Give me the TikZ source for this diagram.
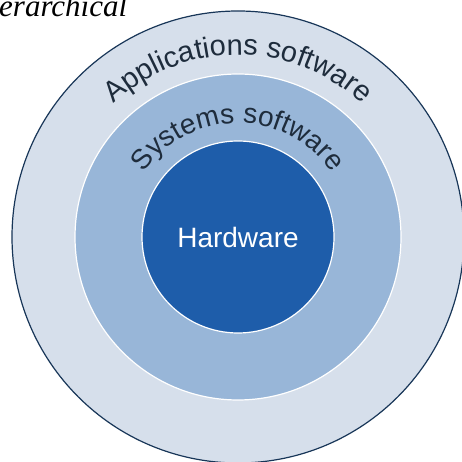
\documentclass[tikz,border=0pt]{standalone}
\usepackage{fontspec}
\setmainfont{Liberation Serif}
\setsansfont{Liberation Sans}
\usetikzlibrary{decorations.text}
\definecolor{ringouter}{RGB}{214, 223, 235}
\definecolor{ringmid}{RGB}{152, 182, 216}
\definecolor{ringcore}{RGB}{30, 93, 170}
\definecolor{rimline}{RGB}{24, 54, 88}
\definecolor{labeldark}{RGB}{30, 44, 60}
\tikzset{
  ring/.style={
    circle, draw=white, line width=1.2pt,
    inner sep=0pt
  },
  arclabel/.style={
    decorate,
    decoration={text along path, text align=center, text color=labeldark}
  }
}

\begin{document}
\begin{tikzpicture}[
  x=1pt, y=1pt,
  ringtext/.style={font=\fontsize{28}{28}\selectfont\sffamily},
]
\useasboundingbox (0,0) rectangle (462,462);
\clip (0,0) rectangle (462,462);

% Rings
\coordinate (c) at (238,225);
\node[ring, fill=ringouter, draw=rimline, minimum size=452pt] (appring) at (c) {};
\node[ring, fill=ringmid, minimum size=326pt] (sysring) at (c) {};
\node[ring, fill=ringcore, minimum size=192pt] (hwring) at (c) {};

% Labels
\node[ringtext, text=white] (hwlabel) at (c) {Hardware};
\path[arclabel, decoration={text={|\fontsize{29}{29}\selectfont\sffamily|Applications software}}]
  (c) ++(150:182) arc[start angle=150, end angle=30, radius=182];
\path[arclabel, decoration={text={|\fontsize{28}{28}\selectfont\sffamily|Systems software}}]
  (c) ++(155:114) arc[start angle=155, end angle=25, radius=114];

% Heading fragment
\node[anchor=base west, inner sep=0pt, font=\fontsize{31}{31}\selectfont\itshape] (heading) at (-1,445) {erarchical};

\end{tikzpicture}
\end{document}
